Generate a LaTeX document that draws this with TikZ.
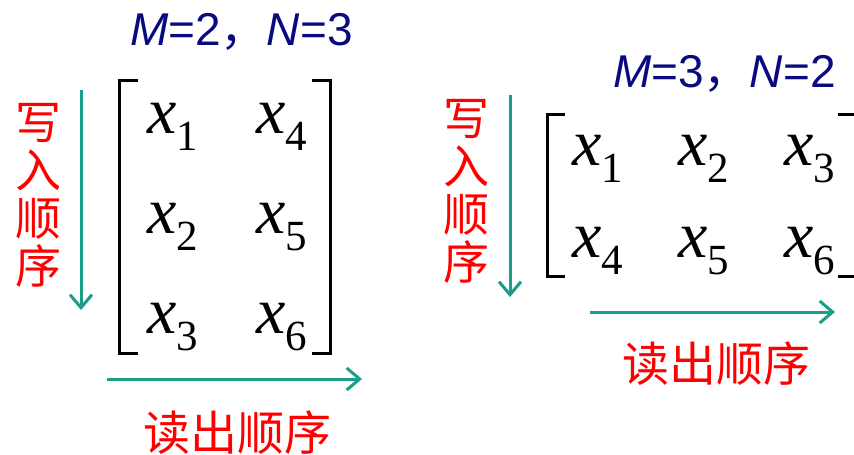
\documentclass[tikz,border=0pt]{standalone}
\usepackage{fontspec}
\setmainfont{Liberation Serif}
\newfontfamily\cjk{Noto Sans CJK SC}
\newfontfamily\arialf{Liberation Sans}
\usetikzlibrary{arrows.meta}
\definecolor{tealc}{RGB}{26,158,138}
\definecolor{navyc}{RGB}{10,10,128}
\definecolor{redc}{RGB}{255,0,0}
\newcommand{\xe}[1]{{\fontsize{66}{66}\selectfont\itshape x}\raisebox{-17pt}{\fontsize{43}{43}\selectfont #1}}
\tikzset{
  entry/.style={anchor=base west, inner sep=0pt, outer sep=0pt},
  brk/.style={line width=3pt, black, line join=miter, line cap=butt},
  ord/.style={line width=3pt, tealc, -{Straight Barb[length=13pt,width=22pt]}},
  vlabel/.style={redc, align=center, inner sep=0pt, font=\cjk\fontsize{46}{48}\selectfont},
  hlabel/.style={redc, inner sep=0pt, font=\cjk\fontsize{47}{47}\selectfont},
  title/.style={navyc, anchor=base west, inner sep=0pt, font=\arialf\fontsize{46}{46}\selectfont}
}
\begin{document}
\begin{tikzpicture}[x=1pt,y=-1pt]
\useasboundingbox (0,0) rectangle (854,455);
\clip (0,0) rectangle (854,455);
% ---------- left: M=2, N=3 ----------
\node[title] (t1) at (130,45) {\textit{M}=2{\cjk ，}\textit{N}=3};
\draw[brk] (138,80) -- (119,80) -- (119,353) -- (138,353);
\draw[brk] (312,80) -- (330,80) -- (330,353) -- (312,353);
\node[entry] (a1) at (147,133) {\xe{1}};
\node[entry] (a4) at (256,133) {\xe{4}};
\node[entry] (a2) at (147,233) {\xe{2}};
\node[entry] (a5) at (256,233) {\xe{5}};
\node[entry] (a3) at (147,333) {\xe{3}};
\node[entry] (a6) at (256,333) {\xe{6}};
\coordinate (w1s) at (81,90);
\coordinate (w1e) at (81,310);
\draw[ord] (w1s) -- (w1e);
\node[vlabel] (wl1) at (38,195) {写\\入\\顺\\序};
\coordinate (r1s) at (107,379);
\coordinate (r1e) at (362,379);
\draw[ord] (r1s) -- (r1e);
\node[hlabel] (rl1) at (237,433) {读出顺序};
% ---------- right: M=3, N=2 ----------
\node[title] (t2) at (613,87) {\textit{M}=3{\cjk ，}\textit{N}=2};
\draw[brk] (565,114) -- (547,114) -- (547,276) -- (565,276);
\draw[brk] (838,114) -- (858,114) -- (858,276) -- (838,276);
\node[entry] (b1) at (572,165) {\xe{1}};
\node[entry] (b2) at (678,165) {\xe{2}};
\node[entry] (b3) at (784,165) {\xe{3}};
\node[entry] (b4) at (572,257) {\xe{4}};
\node[entry] (b5) at (678,257) {\xe{5}};
\node[entry] (b6) at (784,257) {\xe{6}};
\coordinate (w2s) at (510,95);
\coordinate (w2e) at (510,297);
\draw[ord] (w2s) -- (w2e);
\node[vlabel] (wl2) at (466,191) {写\\入\\顺\\序};
\coordinate (r2s) at (590,312);
\coordinate (r2e) at (835,312);
\draw[ord] (r2s) -- (r2e);
\node[hlabel] (rl2) at (716,364) {读出顺序};
\end{tikzpicture}
\end{document}
